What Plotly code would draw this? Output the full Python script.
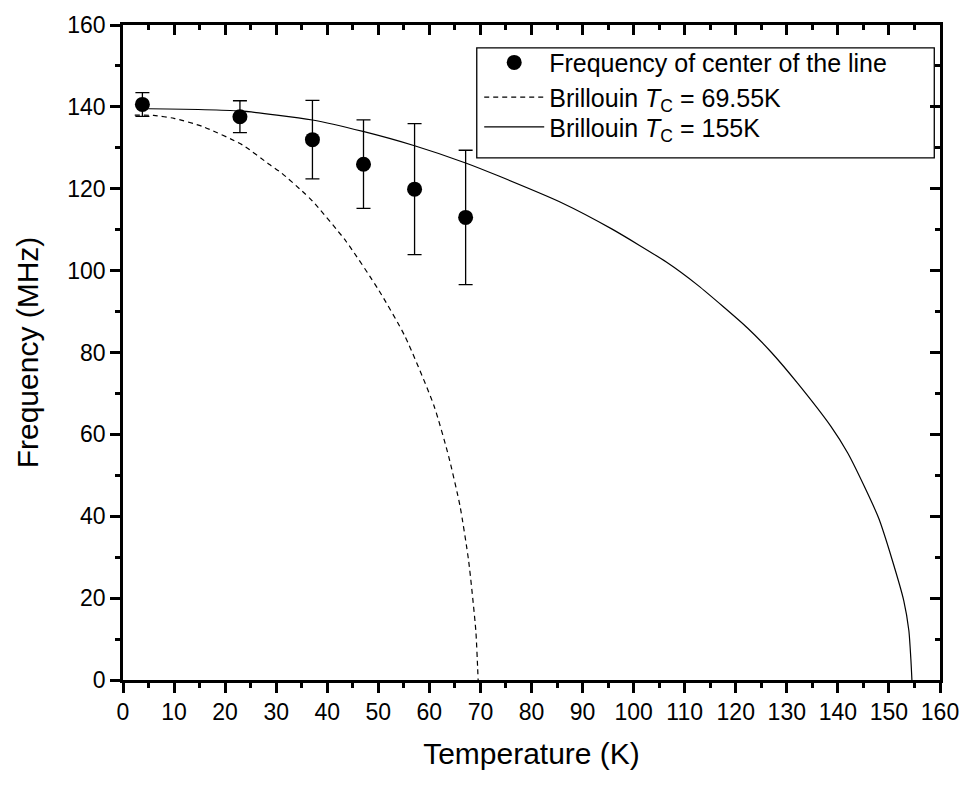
import plotly.graph_objects as go

# Measured points
temp_pts = [3.8, 22.9, 37.1, 47.1, 57.1, 67.1]
freq_pts = [140.6, 137.6, 132.0, 126.0, 119.9, 113.0]
freq_err = [2.9, 3.9, 9.6, 10.8, 16.0, 16.4]

# Brillouin curve, Tc = 69.55 K
t_b1 = [2.3, 6.0, 10.0, 15.6, 23.4, 28.7, 31.0, 35.1, 37.1, 43.6, 50.1, 55.2, 60.9, 63.8, 66.0, 67.7, 69.1, 69.45, 69.55]
f_b1 = [138.0, 137.9, 137.2, 135.2, 130.7, 125.9, 123.9, 119.4, 117.0, 107.3, 95.2, 84.0, 67.0, 54.5, 42.5, 29.0, 12.0, 3.0, 0.0]

# Brillouin curve, Tc = 155 K
t_b2 = [3.0, 22.8, 37.1, 47.0, 57.1, 67.1, 73.6, 85.9, 95.7, 106.4, 112.6, 122.3, 127.0, 132.1, 138.6, 141.9, 145.1, 148.0, 150.6, 152.9, 153.9, 154.3, 154.5]
f_b2 = [139.6, 139.0, 136.8, 134.0, 130.5, 126.3, 123.1, 116.6, 110.2, 102.1, 96.4, 86.0, 80.0, 72.5, 62.0, 55.5, 47.5, 39.5, 29.5, 19.4, 12.1, 5.0, 0.0]

FONT = "Arial, Liberation Sans, sans-serif"

fig = go.Figure()

fig.add_trace(go.Scatter(
    x=t_b1, y=f_b1, mode="lines", line_shape="spline",
    line=dict(color="black", width=1.2, dash="5px,4px", smoothing=0.6),
    name="Brillouin <i>T</i><sub>C</sub> = 69.55K", legend="legend2",
))
fig.add_trace(go.Scatter(
    x=t_b2, y=f_b2, mode="lines", line_shape="spline",
    line=dict(color="black", width=1.2, smoothing=0.6),
    name="Brillouin <i>T</i><sub>C</sub> = 155K", legend="legend3",
))
fig.add_trace(go.Scatter(
    x=temp_pts, y=freq_pts, mode="markers",
    marker=dict(color="black", size=15, symbol="circle"),
    error_y=dict(type="data", array=freq_err, visible=True, color="black", thickness=1.3, width=7),
    name="Frequency of center of the line", legend="legend",
))
# invisible trace to activate mirrored inside-tick axes
fig.add_trace(go.Scatter(x=[0], y=[0], xaxis="x2", yaxis="y2", mode="markers",
                         marker=dict(opacity=0), showlegend=False, hoverinfo="skip"))

axis_common = dict(
    showgrid=False, zeroline=False, showline=True, linecolor="black", linewidth=2.5,
    tickcolor="black", tickwidth=2.5, ticklen=10,
    tickfont=dict(family=FONT, size=23, color="black"),
)

def legend_at(ycenter):
    return dict(
        x=0.436, y=ycenter, xanchor="left", yanchor="middle",
        bgcolor="rgba(255,255,255,0)", borderwidth=0,
        font=dict(family=FONT, size=25, color="black"),
        itemwidth=60,
    )

fig.update_layout(
    width=971, height=785,
    margin=dict(l=123, r=28, t=19, b=105),
    paper_bgcolor="white", plot_bgcolor="white",
    font=dict(family=FONT, color="black"),
    xaxis=dict(
        range=[0, 160], tick0=0, dtick=10, ticks="outside",
        minor=dict(dtick=5, ticklen=5, tickwidth=2.5, tickcolor="black", ticks="outside"),
        title=dict(text="Temperature (K)", font=dict(family=FONT, size=30, color="black"), standoff=19),
        **axis_common,
    ),
    yaxis=dict(
        range=[0, 160], tick0=0, dtick=20, ticks="outside",
        minor=dict(dtick=10, ticklen=5, tickwidth=2.5, tickcolor="black", ticks="outside"),
        title=dict(text="Frequency (MHz)", font=dict(family=FONT, size=30, color="black"), standoff=20),
        **axis_common,
    ),
    xaxis2=dict(
        overlaying="x", side="top", anchor="y", range=[0, 160], tick0=0, dtick=10,
        ticks="inside", showticklabels=False,
        minor=dict(dtick=5, ticklen=5, tickwidth=2.5, tickcolor="black", ticks="inside"),
        **axis_common,
    ),
    yaxis2=dict(
        overlaying="y", side="right", anchor="x", range=[0, 160], tick0=0, dtick=20,
        ticks="inside", showticklabels=False,
        minor=dict(dtick=10, ticklen=5, tickwidth=2.5, tickcolor="black", ticks="inside"),
        **axis_common,
    ),
    legend=legend_at(0.9425),
    legend2=legend_at(0.8896),
    legend3=legend_at(0.8442),
    shapes=[dict(type="rect", xref="paper", yref="paper",
                 x0=0.433, x1=0.993, y0=0.797, y1=0.965,
                 line=dict(color="black", width=1.3), fillcolor="rgba(0,0,0,0)")],
    showlegend=True,
)

fig.write_html("out.html")
